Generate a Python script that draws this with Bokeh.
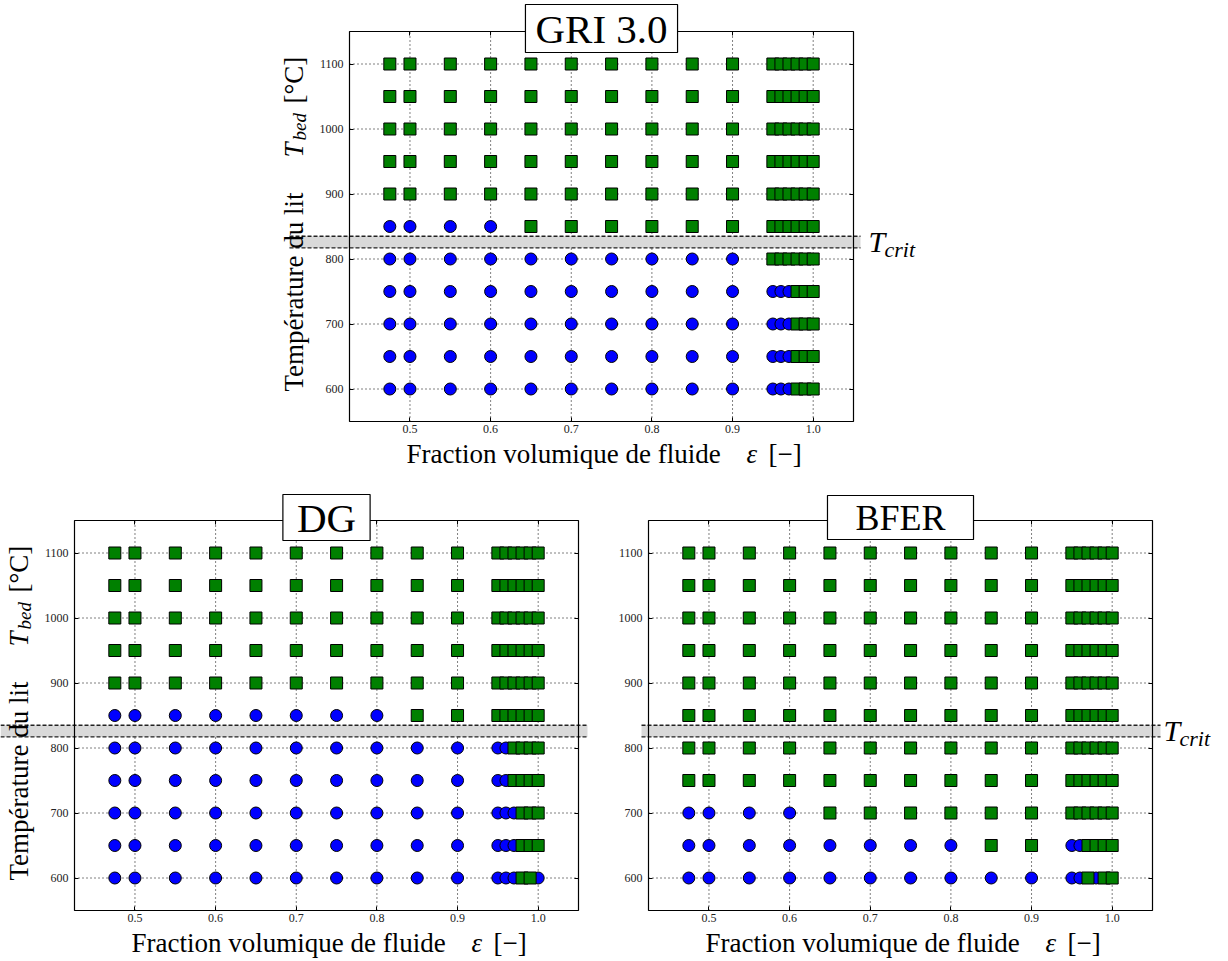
import numpy as np
from bokeh.plotting import figure
from bokeh.models import (ColumnDataSource, Label, BoxAnnotation,
                          LinearAxis, FixedTicker, Range1d, PrintfTickFormatter)
from bokeh.layouts import column, row
from bokeh.embed import file_html
from bokeh.resources import INLINE

# ---------------- data ----------------
eps_values = [0.475, 0.5, 0.55, 0.6, 0.65, 0.7, 0.75, 0.8, 0.85, 0.9,
              0.95, 0.96, 0.97, 0.98, 0.99, 1.0]
t_bed_values = [600, 650, 700, 750, 800, 850, 900, 950, 1000, 1050, 1100]
x_ticks = [0.5, 0.6, 0.7, 0.8, 0.9, 1.0]
y_ticks = [600, 700, 800, 900, 1000, 1100]
x_limits = [0.425, 1.05]
y_limits = [550, 1150]
t_crit_band = [817, 835]

# 0 = blue circle, 1 = green square ; one row per t_bed value, one column per eps value
gri_regime = [
    [0, 0, 0, 0, 0, 0, 0, 0, 0, 0, 0, 0, 0, 1, 1, 1],  # 600
    [0, 0, 0, 0, 0, 0, 0, 0, 0, 0, 0, 0, 0, 1, 1, 1],  # 650
    [0, 0, 0, 0, 0, 0, 0, 0, 0, 0, 0, 0, 0, 1, 1, 1],  # 700
    [0, 0, 0, 0, 0, 0, 0, 0, 0, 0, 0, 0, 0, 1, 1, 1],  # 750
    [0, 0, 0, 0, 0, 0, 0, 0, 0, 0, 1, 1, 1, 1, 1, 1],  # 800
    [0, 0, 0, 0, 1, 1, 1, 1, 1, 1, 1, 1, 1, 1, 1, 1],  # 850
    [1, 1, 1, 1, 1, 1, 1, 1, 1, 1, 1, 1, 1, 1, 1, 1],  # 900
    [1, 1, 1, 1, 1, 1, 1, 1, 1, 1, 1, 1, 1, 1, 1, 1],  # 950
    [1, 1, 1, 1, 1, 1, 1, 1, 1, 1, 1, 1, 1, 1, 1, 1],  # 1000
    [1, 1, 1, 1, 1, 1, 1, 1, 1, 1, 1, 1, 1, 1, 1, 1],  # 1050
    [1, 1, 1, 1, 1, 1, 1, 1, 1, 1, 1, 1, 1, 1, 1, 1],  # 1100
]
dg_regime = [
    [0, 0, 0, 0, 0, 0, 0, 0, 0, 0, 0, 0, 0, 1, 1, 0],  # 600
    [0, 0, 0, 0, 0, 0, 0, 0, 0, 0, 0, 0, 0, 1, 1, 1],  # 650
    [0, 0, 0, 0, 0, 0, 0, 0, 0, 0, 0, 0, 0, 1, 1, 1],  # 700
    [0, 0, 0, 0, 0, 0, 0, 0, 0, 0, 0, 0, 1, 1, 1, 1],  # 750
    [0, 0, 0, 0, 0, 0, 0, 0, 0, 0, 0, 0, 1, 1, 1, 1],  # 800
    [0, 0, 0, 0, 0, 0, 0, 0, 1, 1, 1, 1, 1, 1, 1, 1],  # 850
    [1, 1, 1, 1, 1, 1, 1, 1, 1, 1, 1, 1, 1, 1, 1, 1],  # 900
    [1, 1, 1, 1, 1, 1, 1, 1, 1, 1, 1, 1, 1, 1, 1, 1],  # 950
    [1, 1, 1, 1, 1, 1, 1, 1, 1, 1, 1, 1, 1, 1, 1, 1],  # 1000
    [1, 1, 1, 1, 1, 1, 1, 1, 1, 1, 1, 1, 1, 1, 1, 1],  # 1050
    [1, 1, 1, 1, 1, 1, 1, 1, 1, 1, 1, 1, 1, 1, 1, 1],  # 1100
]
bfer_regime = [
    [0, 0, 0, 0, 0, 0, 0, 0, 0, 0, 0, 0, 1, 0, 1, 1],  # 600
    [0, 0, 0, 0, 0, 0, 0, 0, 1, 1, 0, 0, 1, 1, 1, 1],  # 650
    [0, 0, 0, 0, 1, 1, 1, 1, 1, 1, 1, 1, 1, 1, 1, 1],  # 700
    [1, 1, 1, 1, 1, 1, 1, 1, 1, 1, 1, 1, 1, 1, 1, 1],  # 750
    [1, 1, 1, 1, 1, 1, 1, 1, 1, 1, 1, 1, 1, 1, 1, 1],  # 800
    [1, 1, 1, 1, 1, 1, 1, 1, 1, 1, 1, 1, 1, 1, 1, 1],  # 850
    [1, 1, 1, 1, 1, 1, 1, 1, 1, 1, 1, 1, 1, 1, 1, 1],  # 900
    [1, 1, 1, 1, 1, 1, 1, 1, 1, 1, 1, 1, 1, 1, 1, 1],  # 950
    [1, 1, 1, 1, 1, 1, 1, 1, 1, 1, 1, 1, 1, 1, 1, 1],  # 1000
    [1, 1, 1, 1, 1, 1, 1, 1, 1, 1, 1, 1, 1, 1, 1, 1],  # 1050
    [1, 1, 1, 1, 1, 1, 1, 1, 1, 1, 1, 1, 1, 1, 1, 1],  # 1100
]

SERIF = "Liberation Serif"


def split_sources(regime):
    cx, cy, sx, sy = [], [], [], []
    for t, flags in zip(t_bed_values, regime):
        for e, f in zip(eps_values, flags):
            if f:
                sx.append(e); sy.append(t)
            else:
                cx.append(e); cy.append(t)
    return ColumnDataSource(dict(x=cx, y=cy)), ColumnDataSource(dict(x=sx, y=sy))


def make_panel(title, title_size, title_pad, regime, cw, ch, box, band_px,
               show_ylabel, tcrit_dx):
    """cw, ch: canvas size; box: (left, right, top, bottom) pixel edges of the axes box."""
    L, R, T, B = box
    X0, X1 = x_limits
    Y0, Y1 = y_limits
    kx = (R - L) / (X1 - X0)          # px per data unit
    ky = (B - T) / (Y1 - Y0)
    x_range = Range1d(X0 - L / kx, X1 + (cw - R) / kx)
    y_range = Range1d(Y0 - (ch - B) / ky, Y1 + T / ky)

    def dx(px):   # box-relative pixel offset -> data x
        return X0 + px / kx

    def dy(px):   # box-relative pixel offset (upward from box bottom) -> data y
        return Y0 + px / ky

    p = figure(width=cw, height=ch, x_range=x_range, y_range=y_range,
               output_backend="svg", toolbar_location=None,
               min_border_left=0, min_border_right=0,
               min_border_top=0, min_border_bottom=0)
    p.background_fill_color = "white"
    p.border_fill_color = "white"
    p.outline_line_color = None
    p.xgrid.visible = False
    p.ygrid.visible = False

    # axes pinned to the edges of the axes box
    def style_axis(ax, ticks, loc, labels=True):
        ax.ticker = FixedTicker(ticks=ticks)
        ax.fixed_location = loc
        ax.axis_line_color = None
        ax.major_tick_in = 4
        ax.major_tick_out = 0
        ax.major_tick_line_color = "black"
        ax.major_tick_line_width = 1
        ax.minor_tick_line_color = None
        ax.major_label_text_font = SERIF
        ax.major_label_text_font_size = "12px"
        ax.major_label_text_color = "#222222"
        if not labels:
            ax.major_label_overrides = {t: "" for t in ticks}

    style_axis(p.xaxis[0], x_ticks, Y0)
    p.xaxis[0].formatter = PrintfTickFormatter(format="%.1f")
    p.xaxis[0].major_label_standoff = 3
    style_axis(p.yaxis[0], y_ticks, X0)
    p.yaxis[0].major_label_standoff = 6
    top_ax = LinearAxis()
    style_axis(top_ax, x_ticks, Y1, labels=False)
    p.add_layout(top_ax, "above")
    right_ax = LinearAxis()
    style_axis(right_ax, y_ticks, X1, labels=False)
    p.add_layout(right_ax, "right")

    # dotted grid inside the axes box
    p.segment(x0=x_ticks, x1=x_ticks, y0=[Y0] * len(x_ticks), y1=[Y1] * len(x_ticks),
              line_color="black", line_dash="1 3", line_width=1, line_alpha=1.0)
    p.segment(x0=[X0] * len(y_ticks), x1=[X1] * len(y_ticks), y0=y_ticks, y1=y_ticks,
              line_color="black", line_dash="1 3", line_width=1, line_alpha=1.0)

    # critical temperature band (extends past the axes box)
    bx0, bx1 = dx(band_px[0]), dx(band_px[1])
    p.quad(left=[bx0], right=[bx1], bottom=[t_crit_band[0]], top=[t_crit_band[1]],
           fill_color="#d9d9d9", line_color=None)
    p.segment(x0=[bx0, bx0], x1=[bx1, bx1], y0=t_crit_band, y1=t_crit_band,
              line_color="#222222", line_dash="4 2", line_width=1.3)

    circ_src, sq_src = split_sources(regime)
    p.scatter("x", "y", source=circ_src, marker="circle", size=12,
              fill_color="#0000ff", line_color="black", line_width=1)
    p.scatter("x", "y", source=sq_src, marker="square", size=12,
              fill_color="#008000", line_color="black", line_width=1)

    # axes box outline
    p.add_layout(BoxAnnotation(left=X0, right=X1, bottom=Y0, top=Y1,
                               fill_color=None, fill_alpha=0,
                               line_color="black", line_alpha=1.0, line_width=1.2))

    def lab(text, x, y, size, italic=False, angle=0.0, align="left",
            baseline="middle", **extra):
        p.add_layout(Label(x=x, y=y, text=text, text_font=SERIF,
                           text_font_size=f"{size}px",
                           text_font_style="italic" if italic else "normal",
                           text_color="black", angle=angle, text_align=align,
                           text_baseline=baseline, **extra))

    # title box straddling the top edge
    lab(title, (X0 + X1) / 2, Y1 + 3 / ky, title_size, align="center",
        background_fill_color="white",
        border_line_color="black", border_line_width=1.2, padding=title_pad)

    # x label
    lab("Fraction volumique de fluide", dx(57), dy(-32), 27)
    lab("ε", dx(397), dy(-32), 27, italic=True)
    lab("[−]", dx(419), dy(-32), 27)

    # y label
    if show_ylabel:
        a = np.pi / 2
        lab("Température du lit", dx(-56), dy(30), 27, angle=a)
        lab("T", dx(-56), dy(264), 27, italic=True, angle=a)
        lab("bed", dx(-50), dy(281), 19, italic=True, angle=a)
        lab("[°C]", dx(-56), dy(318), 27, angle=a)

    if tcrit_dx is not None:
        mid = (t_crit_band[0] + t_crit_band[1]) / 2
        lab("T", dx(R - L + tcrit_dx), mid, 30, italic=True, y_offset=1)
        lab("crit", dx(R - L + tcrit_dx + 16), mid, 22, italic=True, y_offset=-7)
    return p


top = make_panel("GRI 3.0", 41, dict(left=10, right=10, top=1, bottom=1), gri_regime,
                 1228, 488, (349, 853, 31, 421), (-60, 511), True, 15)
bl = make_panel("DG", 41, dict(left=14, right=14, top=0, bottom=0), dg_regime,
                613, 473, (74, 578, 32, 422), (-74, 513), True, None)
br = make_panel("BFER", 36, dict(left=28, right=28, top=2, bottom=2), bfer_regime,
                615, 473, (35, 539, 32, 422), (-7, 512), False, 11)

layout = column(top, row(bl, br, spacing=0), spacing=0)

open("out.html", "w").write(file_html(layout, INLINE))
